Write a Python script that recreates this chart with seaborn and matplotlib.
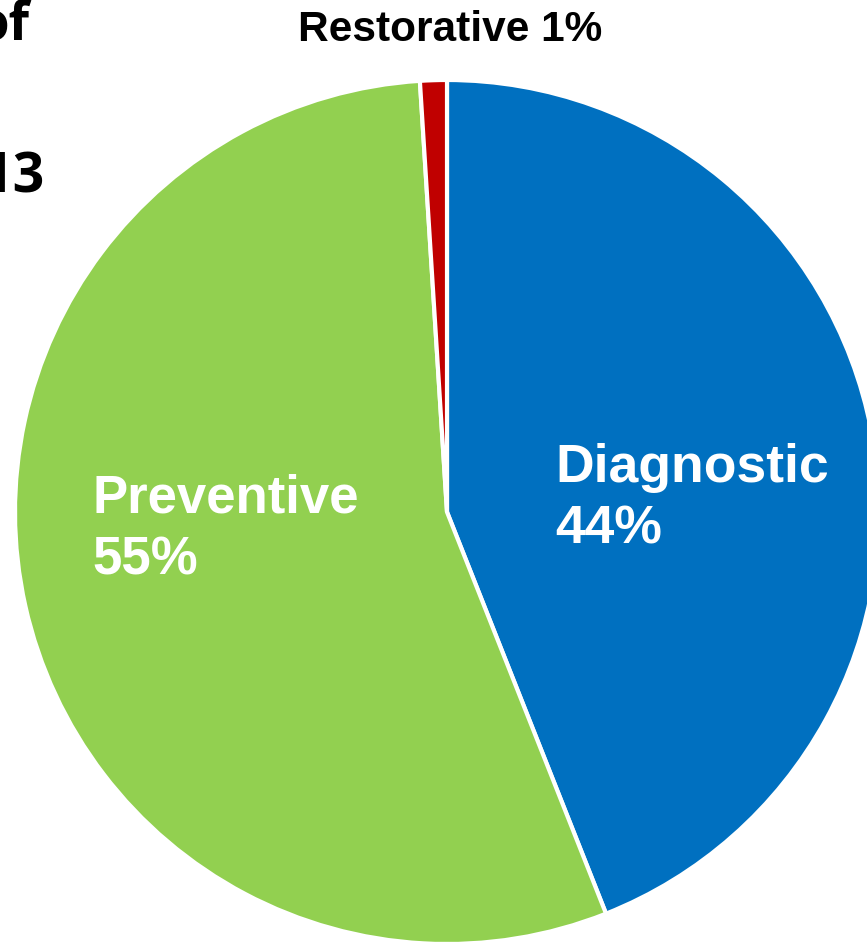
import matplotlib
matplotlib.use("Agg")
import matplotlib.pyplot as plt
import seaborn as sns

categories = ["Diagnostic", "Preventive", "Restorative"]
shares = [44, 55, 1]
colors = ["#0070C0", "#92D050", "#C00000"]

sns.set_theme(style="white")
plt.rcParams["font.family"] = ["Liberation Sans", "DejaVu Sans"]

fig = plt.figure(figsize=(8.67, 9.48), dpi=100)
# pie centre ~ (447, 512) px from top-left, radius ~432 px
ax = fig.add_axes([(447 - 432) / 867, (948 - 512 - 432) / 948, 864 / 867, 864 / 948])
wedges, _ = ax.pie(shares, colors=colors, startangle=90, counterclock=False,
                   radius=1.0, wedgeprops=dict(edgecolor="white", linewidth=3))
ax.set_xlim(-1, 1)
ax.set_ylim(-1, 1)
ax.set_aspect("equal")
ax.axis("off")

ax.text(0.25, 0.03, f"{categories[0]}\n{shares[0]}%", color="white", fontsize=38.5,
        fontweight="bold", ha="left", va="center", linespacing=1.3)
ax.text(-0.82, -0.04, f"{categories[1]}\n{shares[1]}%", color="white", fontsize=38,
        fontweight="bold", ha="left", va="center", linespacing=1.3)
ax.text(0.007, 1.115, f"{categories[2]} {shares[2]}%", color="black", fontsize=30.5,
        fontweight="bold", ha="center", va="center")

# title fragments cut off by the left edge
fig.text(30 / 867, 1 - 25 / 948, "of", fontsize=38, fontweight="bold",
         family=["Open Sans", "DejaVu Sans"], ha="right", va="center", color="black")
fig.text(45 / 867, 1 - 178 / 948, "13", fontsize=40, fontweight="bold",
         family=["Open Sans", "DejaVu Sans"], ha="right", va="center", color="black")

fig.savefig("out.png", dpi=100)
